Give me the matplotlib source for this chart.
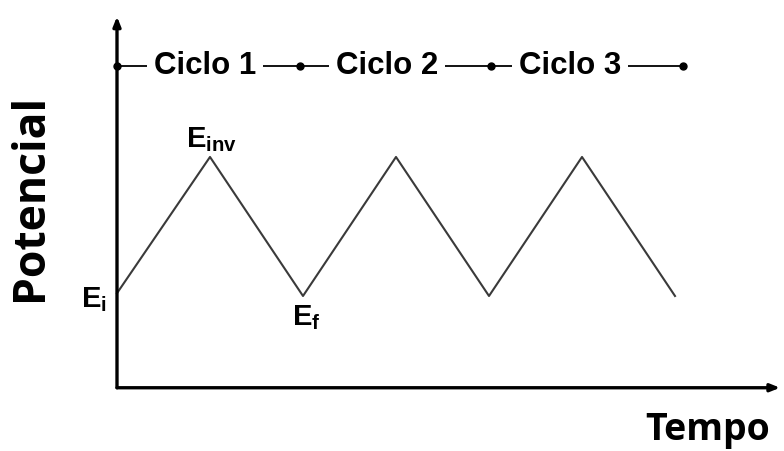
import matplotlib
matplotlib.use("Agg")
import matplotlib.pyplot as plt

# triangular potential sweep, three cycles (time in half-cycles)
tempo = [0, 1, 2, 3, 4, 5, 6]
potencial = [0.02, 1.0, 0.0, 1.0, 0.0, 1.0, 0.0]

# cycle boundaries on the top bar
ciclo_lim = [0, 1.97, 4.02, 6.09]
ciclo_nomes = ["Ciclo 1", "Ciclo 2", "Ciclo 3"]
ciclo_txt_x = [0.946, 2.90, 4.87]

plt.rcParams['mathtext.fontset'] = 'custom'
plt.rcParams['mathtext.bf'] = 'Liberation Sans:bold'
plt.rcParams['mathtext.rm'] = 'Liberation Sans:bold'

fig = plt.figure(figsize=(7.84, 4.51), dpi=100)
ax = fig.add_axes([0, 0, 1, 1])
ax.set_xlim(-1.258, 7.172)
ax.set_ylim(-1.115, 2.129)
ax.axis("off")

y0 = -0.66
# axes with arrows
ax.annotate("", xy=(7.13, y0), xytext=(0, y0),
            arrowprops=dict(arrowstyle="-|>,head_length=0.55,head_width=0.22",
                            lw=2.4, color="black", shrinkA=0, shrinkB=0))
ax.annotate("", xy=(0, 2.01), xytext=(0, y0),
            arrowprops=dict(arrowstyle="-|>,head_length=0.55,head_width=0.22",
                            lw=2.4, color="black", shrinkA=0, shrinkB=0))

ax.plot(tempo, potencial, color="#3a3a3a", lw=1.5)

# cycle bar
yc = 1.655
ax.plot([ciclo_lim[0], ciclo_lim[-1]], [yc, yc], color="black", lw=1.3)
ax.plot(ciclo_lim, [yc] * len(ciclo_lim), "o", color="black", ms=5)
for x, nome in zip(ciclo_txt_x, ciclo_nomes):
    ax.text(x, yc, nome, ha="center", va="center", fontsize=22.5,
            family="Liberation Sans", weight="bold",
            bbox=dict(facecolor="white", edgecolor="none", pad=5))

# labels on the wave
ax.text(-0.39, -0.08, r"$\mathbf{E}_\mathbf{i}$", fontsize=21, va="baseline")
ax.text(0.74, 1.07, r"$\mathbf{E}_\mathbf{inv}$", fontsize=21, va="baseline")
ax.text(1.88, -0.21, r"$\mathbf{E}_\mathbf{f}$", fontsize=21, va="baseline")

ax.text(5.68, -1.036, "Tempo", fontsize=27, family="Open Sans",
        weight="bold", va="baseline", ha="left")
ax.text(-0.925, 0.71, "Potencial", fontsize=32, family="Open Sans",
        weight="bold", rotation=90, va="center", ha="center")

fig.savefig("out.png", dpi=100)
